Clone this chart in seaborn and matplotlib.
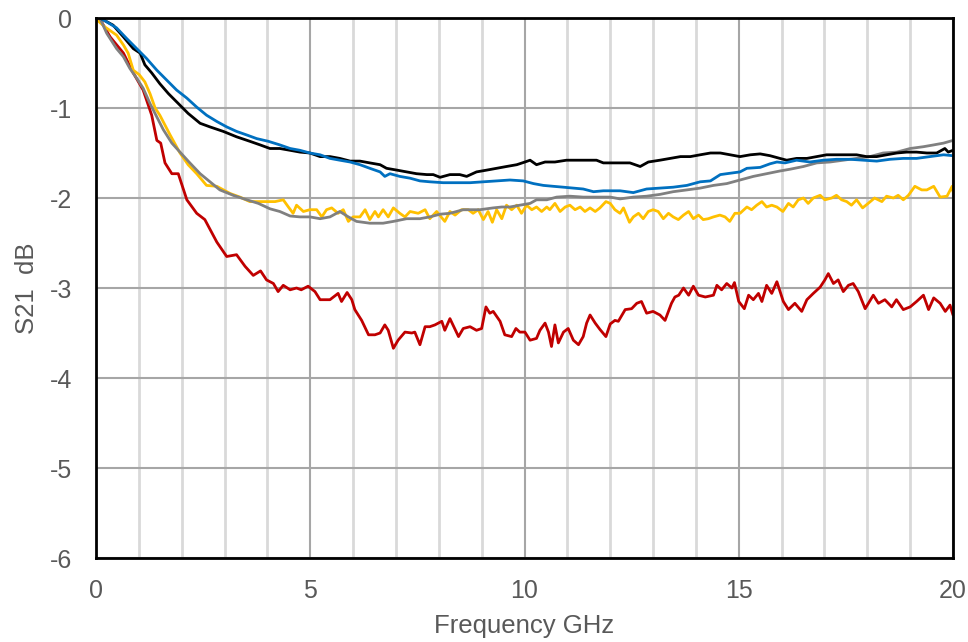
import matplotlib
matplotlib.use("Agg")
import matplotlib.pyplot as plt
from matplotlib.ticker import MultipleLocator
import seaborn as sns

# S21 traces (GHz, dB)
red_f = [0.05, 0.1, 0.33, 0.64, 0.87, 1.1, 1.3, 1.42, 1.51, 1.61, 1.77, 1.92, 2.12, 2.35, 2.54, 2.82, 3.05, 3.28, 3.48, 3.67,
         3.84, 3.98, 4.14, 4.25, 4.37, 4.53, 4.68, 4.79, 4.95, 5.11, 5.23, 5.46, 5.65, 5.73, 5.86, 5.97, 6.04, 6.2, 6.36, 6.51,
         6.63, 6.74, 6.82, 6.94, 7.05, 7.21, 7.37, 7.44, 7.56, 7.68, 7.79, 7.91, 8.07, 8.14, 8.26, 8.46, 8.57, 8.73, 8.88, 9.0,
         9.1, 9.19, 9.27, 9.43, 9.54, 9.7, 9.8, 9.89, 10.01, 10.13, 10.28, 10.36, 10.48, 10.56, 10.63, 10.71, 10.79, 10.91, 11.02, 11.14,
         11.26, 11.37, 11.45, 11.53, 11.65, 11.76, 11.9, 12.0, 12.11, 12.19, 12.35, 12.5, 12.62, 12.73, 12.85, 13.0, 13.16, 13.28, 13.43, 13.51,
         13.6, 13.71, 13.83, 13.94, 14.06, 14.22, 14.41, 14.49, 14.6, 14.72, 14.84, 14.9, 15.0, 15.13, 15.23, 15.34, 15.46, 15.54, 15.65, 15.77,
         15.89, 16.04, 16.16, 16.31, 16.47, 16.59, 16.74, 16.9, 17.01, 17.09, 17.21, 17.32, 17.44, 17.56, 17.67, 17.79, 17.95, 18.14, 18.26, 18.41,
         18.57, 18.68, 18.84, 19.0, 19.15, 19.31, 19.43, 19.55, 19.7, 19.82, 19.93, 20.0]
red_v = [0, -0.02, -0.21, -0.39, -0.61, -0.8, -1.08, -1.36, -1.39, -1.61, -1.73, -1.73, -2.02, -2.17, -2.24, -2.49, -2.65, -2.63, -2.76, -2.86,
         -2.81, -2.91, -2.95, -3.04, -2.97, -3.02, -3.0, -3.02, -2.98, -3.04, -3.13, -3.13, -3.06, -3.15, -3.05, -3.13, -3.24, -3.36, -3.52, -3.52,
         -3.5, -3.41, -3.47, -3.67, -3.58, -3.49, -3.5, -3.49, -3.63, -3.43, -3.43, -3.41, -3.37, -3.47, -3.34, -3.54, -3.45, -3.43, -3.47, -3.45,
         -3.21, -3.28, -3.26, -3.37, -3.52, -3.54, -3.45, -3.49, -3.49, -3.58, -3.56, -3.47, -3.39, -3.49, -3.65, -3.41, -3.61, -3.49, -3.45, -3.58,
         -3.63, -3.54, -3.39, -3.3, -3.39, -3.46, -3.54, -3.4, -3.36, -3.37, -3.24, -3.23, -3.17, -3.15, -3.28, -3.26, -3.3, -3.36, -3.17, -3.1,
         -3.08, -3.0, -3.08, -2.98, -3.08, -3.1, -3.08, -2.97, -3.02, -2.95, -3.0, -2.94, -3.15, -3.23, -3.08, -3.13, -3.06, -3.15, -2.97, -3.06,
         -2.93, -3.15, -3.24, -3.17, -3.26, -3.13, -3.06, -2.99, -2.91, -2.84, -2.95, -2.91, -3.04, -2.97, -2.95, -3.04, -3.23, -3.08, -3.17, -3.13,
         -3.21, -3.13, -3.24, -3.21, -3.15, -3.08, -3.24, -3.11, -3.17, -3.26, -3.19, -3.3]

yel_f = [0.02, 0.21, 0.48, 0.64, 0.75, 0.87, 1.01, 1.14, 1.26, 1.38, 1.49, 1.61, 1.73, 1.96, 2.15, 2.35, 2.58, 2.82, 3.13, 3.36,
         3.59, 3.83, 3.98, 4.18, 4.37, 4.49, 4.6, 4.68, 4.84, 4.99, 5.15, 5.27, 5.38, 5.5, 5.65, 5.77, 5.89, 6.0, 6.16, 6.28,
         6.39, 6.51, 6.59, 6.7, 6.82, 6.94, 7.09, 7.21, 7.33, 7.52, 7.68, 7.79, 7.95, 8.14, 8.26, 8.38, 8.53, 8.69, 8.8, 8.92,
         9.04, 9.15, 9.25, 9.35, 9.47, 9.58, 9.7, 9.82, 9.93, 10.05, 10.17, 10.28, 10.4, 10.52, 10.59, 10.71, 10.83, 10.95, 11.06, 11.18,
         11.3, 11.41, 11.53, 11.65, 11.76, 11.9, 12.0, 12.11, 12.23, 12.31, 12.45, 12.54, 12.66, 12.77, 12.89, 13.0, 13.12, 13.24, 13.36, 13.47,
         13.59, 13.71, 13.83, 13.94, 14.06, 14.17, 14.29, 14.41, 14.56, 14.68, 14.79, 14.91, 15.03, 15.19, 15.3, 15.42, 15.54, 15.65, 15.77, 15.89,
         16.03, 16.16, 16.27, 16.39, 16.51, 16.62, 16.74, 16.9, 17.01, 17.17, 17.28, 17.4, 17.52, 17.63, 17.75, 17.89, 18.02, 18.17, 18.34, 18.45,
         18.61, 18.72, 18.84, 18.96, 19.11, 19.27, 19.39, 19.55, 19.7, 19.86, 19.98, 20.0]
yel_v = [-0.02, -0.1, -0.19, -0.3, -0.39, -0.58, -0.63, -0.71, -0.84, -1.0, -1.08, -1.19, -1.3, -1.5, -1.63, -1.73, -1.86, -1.87, -1.95, -1.99,
         -2.04, -2.04, -2.04, -2.04, -2.02, -2.1, -2.17, -2.08, -2.15, -2.13, -2.13, -2.21, -2.13, -2.11, -2.17, -2.13, -2.26, -2.21, -2.21, -2.13,
         -2.24, -2.15, -2.21, -2.13, -2.21, -2.11, -2.17, -2.21, -2.15, -2.17, -2.13, -2.23, -2.15, -2.26, -2.15, -2.19, -2.13, -2.13, -2.17, -2.13,
         -2.24, -2.15, -2.27, -2.13, -2.23, -2.08, -2.13, -2.08, -2.17, -2.08, -2.13, -2.1, -2.15, -2.1, -2.13, -2.06, -2.15, -2.1, -2.08, -2.13,
         -2.1, -2.15, -2.11, -2.15, -2.11, -2.04, -2.06, -2.13, -2.17, -2.11, -2.27, -2.21, -2.17, -2.23, -2.15, -2.13, -2.15, -2.23, -2.17, -2.21,
         -2.24, -2.19, -2.15, -2.23, -2.19, -2.24, -2.23, -2.21, -2.19, -2.21, -2.26, -2.17, -2.17, -2.1, -2.13, -2.08, -2.04, -2.1, -2.08, -2.1,
         -2.15, -2.06, -2.1, -2.02, -2.0, -2.06, -2.0, -1.97, -2.02, -2.0, -1.97, -2.02, -2.04, -2.08, -2.02, -2.11, -2.06, -2.0, -2.04, -1.98,
         -2.0, -1.97, -2.02, -1.97, -1.87, -1.91, -1.91, -1.87, -1.99, -1.98, -1.87, -1.93]

gray_f = [0.09, 0.25, 0.48, 0.64, 0.79, 0.95, 1.1, 1.26, 1.42, 1.57, 1.77, 1.96, 2.19, 2.43, 2.66, 2.89, 3.2, 3.52, 3.79, 4.06,
          4.29, 4.53, 4.76, 4.99, 5.23, 5.46, 5.69, 5.89, 6.08, 6.39, 6.7, 6.94, 7.25, 7.56, 7.79, 8.03, 8.26, 8.57, 8.96, 9.27,
          9.47, 9.66, 9.89, 10.13, 10.28, 10.52, 10.75, 11.06, 11.37, 11.68, 12.0, 12.23, 12.54, 12.85, 13.16, 13.47, 13.79, 14.1, 14.41, 14.72,
          15.03, 15.34, 15.65, 15.96, 16.2, 16.51, 16.82, 17.13, 17.44, 17.75, 18.06, 18.37, 18.69, 19.0, 19.31, 19.55, 19.78, 20.0]
gray_v = [0, -0.17, -0.34, -0.43, -0.56, -0.67, -0.78, -0.95, -1.1, -1.24, -1.39, -1.49, -1.61, -1.73, -1.82, -1.91, -1.97, -2.02, -2.06, -2.12,
          -2.15, -2.2, -2.21, -2.21, -2.23, -2.21, -2.15, -2.21, -2.26, -2.28, -2.28, -2.26, -2.23, -2.23, -2.21, -2.18, -2.17, -2.13, -2.13, -2.11,
          -2.1, -2.1, -2.08, -2.06, -2.02, -2.02, -1.99, -1.98, -1.99, -1.99, -1.99, -2.01, -1.99, -1.98, -1.96, -1.93, -1.91, -1.89, -1.86, -1.84,
          -1.8, -1.76, -1.73, -1.7, -1.68, -1.65, -1.61, -1.6, -1.58, -1.56, -1.54, -1.5, -1.49, -1.45, -1.43, -1.41, -1.39, -1.36]

blk_f = [0.1, 0.17, 0.4, 0.64, 0.87, 1.03, 1.14, 1.3, 1.49, 1.69, 1.92, 2.15, 2.43, 2.66, 2.97, 3.28, 3.59, 3.83, 4.06, 4.29,
         4.53, 4.76, 4.99, 5.23, 5.46, 5.69, 5.93, 6.16, 6.39, 6.63, 6.78, 7.02, 7.25, 7.48, 7.72, 7.87, 8.03, 8.26, 8.49, 8.65,
         8.88, 9.12, 9.35, 9.58, 9.82, 10.01, 10.13, 10.28, 10.48, 10.71, 10.98, 11.22, 11.45, 11.68, 11.84, 12.0, 12.23, 12.46, 12.7, 12.89,
         13.16, 13.4, 13.64, 13.87, 14.1, 14.34, 14.57, 14.8, 15.03, 15.27, 15.5, 15.73, 15.96, 16.12, 16.35, 16.59, 16.82, 17.05, 17.28, 17.52,
         17.75, 17.98, 18.22, 18.45, 18.69, 18.92, 19.15, 19.39, 19.62, 19.81, 19.89, 20.0]
blk_v = [0, -0.02, -0.08, -0.21, -0.34, -0.39, -0.52, -0.61, -0.73, -0.84, -0.95, -1.06, -1.17, -1.21, -1.26, -1.32, -1.37, -1.41, -1.45, -1.45,
         -1.47, -1.49, -1.5, -1.54, -1.54, -1.56, -1.59, -1.59, -1.61, -1.63, -1.67, -1.69, -1.71, -1.73, -1.74, -1.74, -1.77, -1.74, -1.74, -1.76,
         -1.71, -1.69, -1.67, -1.65, -1.63, -1.6, -1.58, -1.63, -1.6, -1.6, -1.58, -1.58, -1.58, -1.58, -1.61, -1.61, -1.61, -1.61, -1.65, -1.6,
         -1.58, -1.56, -1.54, -1.54, -1.52, -1.5, -1.5, -1.52, -1.54, -1.52, -1.51, -1.53, -1.56, -1.58, -1.56, -1.56, -1.54, -1.52, -1.52, -1.52,
         -1.52, -1.54, -1.54, -1.52, -1.5, -1.49, -1.49, -1.5, -1.5, -1.45, -1.49, -1.47]

blu_f = [0.1, 0.17, 0.48, 0.72, 0.95, 1.18, 1.42, 1.65, 1.88, 2.12, 2.35, 2.58, 2.82, 3.05, 3.28, 3.52, 3.75, 4.02, 4.29, 4.53,
         4.76, 4.99, 5.23, 5.46, 5.69, 5.93, 6.16, 6.39, 6.63, 6.74, 6.86, 7.09, 7.33, 7.56, 7.79, 8.1, 8.42, 8.73, 9.04, 9.35,
         9.66, 9.97, 10.21, 10.44, 10.67, 10.91, 11.14, 11.37, 11.61, 11.84, 12.0, 12.23, 12.54, 12.85, 13.16, 13.47, 13.79, 14.1, 14.34, 14.57,
         14.72, 15.03, 15.19, 15.5, 15.73, 15.89, 16.08, 16.35, 16.66, 16.97, 17.28, 17.6, 17.91, 18.22, 18.53, 18.84, 19.15, 19.46, 19.78, 20.0]
blu_v = [0, -0.02, -0.11, -0.23, -0.34, -0.45, -0.58, -0.69, -0.8, -0.89, -0.99, -1.08, -1.15, -1.21, -1.26, -1.3, -1.34, -1.37, -1.41, -1.45,
         -1.47, -1.5, -1.52, -1.56, -1.58, -1.6, -1.63, -1.67, -1.71, -1.76, -1.73, -1.76, -1.78, -1.81, -1.82, -1.83, -1.83, -1.83, -1.82, -1.81,
         -1.8, -1.81, -1.84, -1.86, -1.87, -1.88, -1.89, -1.9, -1.93, -1.92, -1.92, -1.92, -1.94, -1.9, -1.89, -1.88, -1.86, -1.82, -1.81, -1.74,
         -1.73, -1.71, -1.67, -1.66, -1.62, -1.6, -1.61, -1.58, -1.6, -1.58, -1.57, -1.57, -1.58, -1.59, -1.57, -1.56, -1.56, -1.54, -1.52, -1.53]

series = [
    (red_f, red_v, "#C00000"),
    (yel_f, yel_v, "#FFC000"),
    (gray_f, gray_v, "#808080"),
    (blk_f, blk_v, "#000000"),
    (blu_f, blu_v, "#0070C0"),
]

sns.set_style("white")
plt.rcParams["font.family"] = ["Liberation Sans", "DejaVu Sans"]
plt.rcParams["axes.unicode_minus"] = False

fig = plt.figure(figsize=(9.68, 6.42), dpi=100)
ax = fig.add_axes([96 / 968, 1 - 558 / 642, (953 - 96) / 968, (558 - 18) / 642])

for f, v, c in series:
    sns.lineplot(x=f, y=v, color=c, lw=2, ax=ax, estimator=None, sort=False)

ax.set_xlim(0, 20)
ax.set_ylim(-6, 0)
ax.xaxis.set_major_locator(MultipleLocator(5))
ax.xaxis.set_minor_locator(MultipleLocator(1))
ax.yaxis.set_major_locator(MultipleLocator(1))

ax.grid(True, which="minor", axis="x", color="#D9D9D9", lw=2)
ax.grid(True, which="major", axis="x", color="#A6A6A6", lw=1.5)
ax.grid(True, which="major", axis="y", color="#A6A6A6", lw=1.5)
ax.set_axisbelow(True)

for s in ax.spines.values():
    s.set_color("black")
    s.set_linewidth(2)
    s.set_visible(True)

ax.tick_params(which="both", length=0)
ax.tick_params(axis="x", pad=15, labelsize=18, labelcolor="#595959")
ax.tick_params(axis="y", pad=17, labelsize=18, labelcolor="#595959")

ax.set_xlabel("Frequency GHz", fontsize=18.5, color="#595959", labelpad=8)
ax.set_ylabel("S21  dB", fontsize=18.5, color="#595959", labelpad=8)

fig.savefig("out.png", dpi=100)
